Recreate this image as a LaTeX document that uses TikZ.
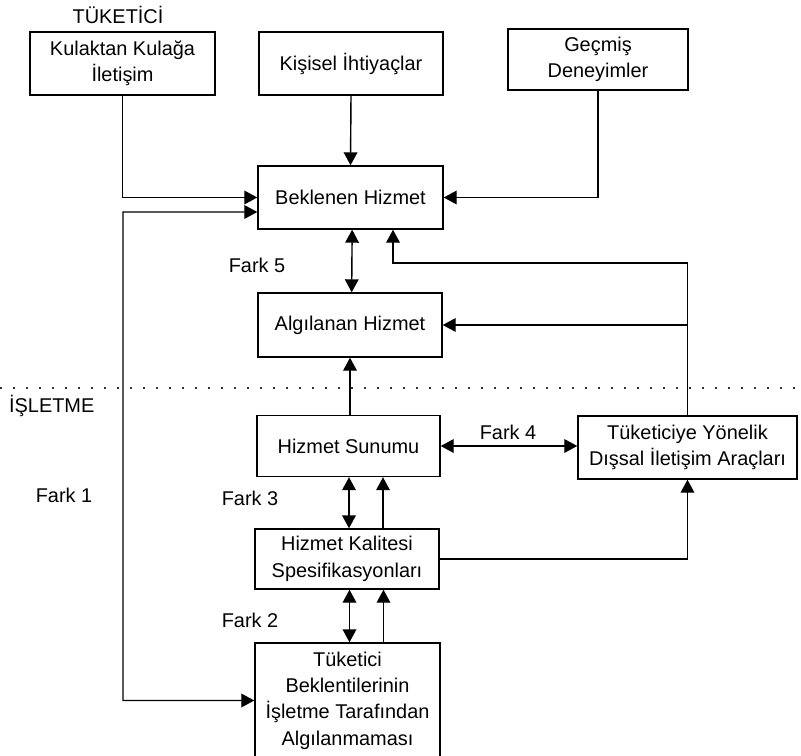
\documentclass[tikz,border=0pt]{standalone}
\usepackage{fontspec}
\setmainfont{Liberation Sans}
\usetikzlibrary{arrows.meta}

\tikzset{
  kutu/.style={draw, line width=1.2pt, inner sep=0pt, align=center},
  ok/.style={line width=1.2pt, -{Triangle[length=3.9mm,width=4.1mm]}},
  ciftok/.style={line width=1.2pt, {Triangle[length=3.9mm,width=4.1mm]}-{Triangle[length=3.9mm,width=4.1mm]}},
}

\begin{document}
\begin{tikzpicture}[x=0.03cm,y=-0.03cm,font=\fontsize{17}{22.5}\selectfont]
\clip (0,0) rectangle (801,756);

% tuketici tarafi
\node (tuketici) at (118,15) {TÜKETİCİ};
\node[kutu, minimum width=5.55cm, minimum height=1.89cm] (kulak) at (122.5,63.5) {Kulaktan Kulağa\\İletişim};
\node[kutu, minimum width=5.52cm, minimum height=1.89cm] (kisisel) at (351,63.5) {Kişisel İhtiyaçlar};
\node[kutu, minimum width=5.4cm, minimum height=1.83cm] (gecmis) at (598,59.5) {Geçmiş\\Deneyimler};
\node[kutu, minimum width=5.55cm, minimum height=1.89cm] (beklenen) at (350.5,197.5) {Beklenen Hizmet};
\node[kutu, minimum width=5.52cm, minimum height=1.92cm] (algilanan) at (350,325) {Algılanan Hizmet};

% ayirici cizgi
\draw[gray!40!black, line width=2pt, dash pattern=on 1.8pt off 9.3pt] (0,388) -- (801,388);

% isletme tarafi
\node[anchor=west] (isletme) at (5,406) {İŞLETME};
\node[kutu, minimum width=5.49cm, minimum height=1.83cm] (sunum) at (348.5,446) {Hizmet Sunumu};
\node[kutu, minimum width=6.57cm, minimum height=1.89cm] (dissal) at (687.5,447.5) {Tüketiciye Yönelik\\Dışsal İletişim Araçları};
\node[kutu, minimum width=5.52cm, minimum height=1.8cm] (spes) at (347,559) {Hizmet Kalitesi\\Spesifikasyonları};
\node[kutu, minimum width=5.55cm, minimum height=3.45cm] (algilama) at (347.5,700.5) {Tüketici\\Beklentilerinin\\İşletme Tarafından\\Algılanmaması};

\node (fark1) at (64,495) {Fark 1};
\node (fark2) at (250,620) {Fark 2};
\node (fark3) at (250,498) {Fark 3};
\node (fark4) at (508,432) {Fark 4};
\node (fark5) at (257,265) {Fark 5};

\coordinate (kose1) at (123,212);
\coordinate (kose2) at (393,263);

\draw[ok] (kulak.south) |- (beklenen.west);
\draw[ok] (kisisel.south) -- (beklenen.north);
\draw[ok] (gecmis.south) |- (beklenen.east);
\draw[ciftok] ([xshift=0.05cm]beklenen.south) -- ([xshift=0.05cm]algilanan.north);
\draw[ciftok] ([yshift=-0.435cm]beklenen.west) -- (kose1) |- (algilama.west);
\draw[ok] (dissal.north) |- (kose2) -- (kose2 |- beklenen.south);
\draw[ok] (dissal.north |- algilanan.east) -- (algilanan.east);
\draw[ok] (sunum.north -| algilanan.south) -- (algilanan.south);
\draw[ciftok] (sunum.east) -- (sunum.east -| dissal.west);
\draw[ciftok] ([xshift=0.06cm]spes.north) -- ([xshift=0.06cm]spes.north |- sunum.south);
\draw[ok] ([xshift=1.08cm]spes.north) -- ([xshift=1.08cm]spes.north |- sunum.south);
\draw[ciftok] ([xshift=0.06cm]algilama.north) -- ([xshift=0.06cm]algilama.north |- spes.south);
\draw[ok] ([xshift=1.08cm]algilama.north) -- ([xshift=1.08cm]algilama.north |- spes.south);
\draw[ok] (spes.east) -| (dissal.south);
\end{tikzpicture}
\end{document}
